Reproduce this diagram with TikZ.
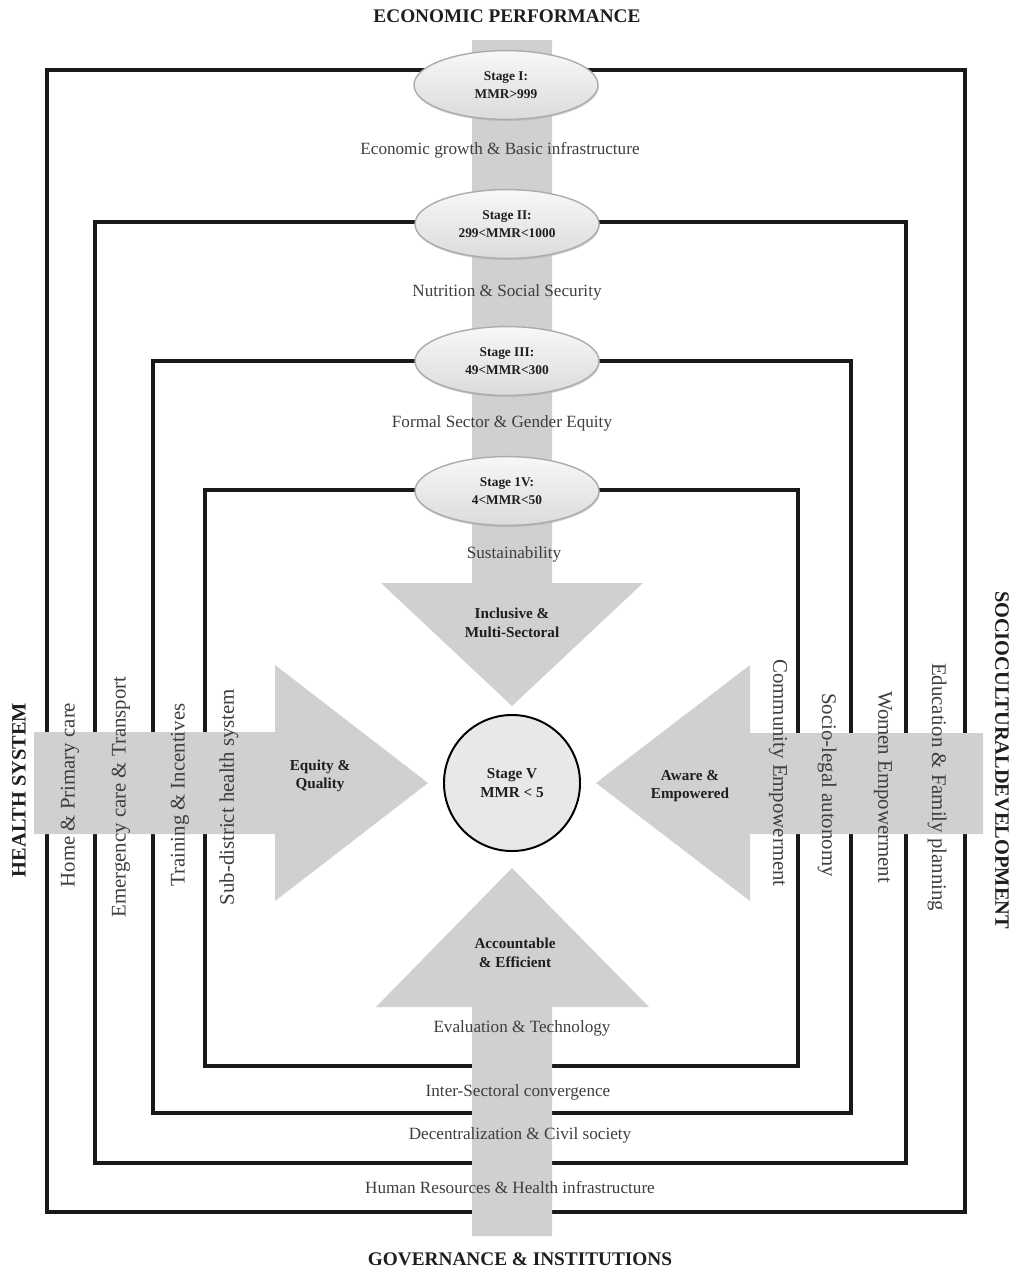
\documentclass[tikz,border=0pt]{standalone}
\usepackage{fontspec}
\setmainfont{Liberation Serif}
\usetikzlibrary{shapes.geometric,shadows}
\definecolor{bandgray}{RGB}{207,208,210}
\definecolor{plaintext}{RGB}{62,62,62}
\definecolor{boldtext}{RGB}{30,30,30}
\tikzset{
  frame/.style={line width=2.4pt, draw=black!90},
  bandshape/.style={fill=bandgray, draw=none},
  stage/.style={ellipse, draw=gray!65, line width=1pt, top color=gray!6, bottom color=gray!28,
    minimum width=4.6cm, minimum height=1.72cm, inner sep=0pt, align=center,
    font=\bfseries\fontsize{9.5}{12.5}\selectfont, text=boldtext,
    drop shadow={shadow xshift=0.4pt, shadow yshift=-1.2pt, fill=gray!60, opacity=0.6}},
  core/.style={circle, draw=black, line width=1.4pt, fill=gray!18, minimum size=3.4cm,
    inner sep=0pt, align=center, font=\bfseries\fontsize{10.8}{13.5}\selectfont, text=boldtext},
  lbl/.style={font=\fontsize{12.2}{14}\selectfont, text=plaintext, inner sep=0pt},
  vlbl/.style={font=\fontsize{14.8}{17}\selectfont, text=plaintext, inner sep=0pt},
  blbl/.style={font=\bfseries\fontsize{10.8}{13.2}\selectfont, align=center, text=boldtext, inner sep=0pt},
  ttl/.style={font=\bfseries\fontsize{13.7}{16}\selectfont, text=boldtext, inner sep=0pt},
  sttl/.style={font=\bfseries\fontsize{14.5}{17}\selectfont, text=boldtext, inner sep=0pt}
}
\begin{document}
\begin{tikzpicture}[x=0.025cm,y=-0.025cm]
\useasboundingbox (0,0) rectangle (1016,1271);
\fill[white] (0,0) rectangle (1016,1271);

% nested frames
\draw[frame] (47,70) rectangle (965,1212);
\draw[frame] (95,222) rectangle (906,1163);
\draw[frame] (153,361) rectangle (851,1113);
\draw[frame] (205,490) rectangle (798,1066);

% gray arrows
\fill[bandshape] (472,40) -- (552,40) -- (552,583) -- (643,583) -- (512,706) -- (381,583) -- (472,583) -- cycle;
\fill[bandshape] (472,1236) -- (552,1236) -- (552,1007) -- (649,1007) -- (512,868) -- (376,1007) -- (472,1007) -- cycle;
\fill[bandshape] (34,732) -- (34,834) -- (275,834) -- (275,901) -- (428,783) -- (275,665) -- (275,732) -- cycle;
\fill[bandshape] (983,733) -- (983,834) -- (750,834) -- (750,901) -- (596,783) -- (750,665) -- (750,733) -- cycle;

% stages
\node[stage] (s1) at (506,85) {Stage I:\\MMR>999};
\node[stage] (s2) at (507,224) {Stage II:\\299<MMR<1000};
\node[stage] (s3) at (507,361) {Stage III:\\49<MMR<300};
\node[stage] (s4) at (507,491) {Stage 1V:\\4<MMR<50};
\node[core] (s5) at (512,783) {Stage V\\MMR < 5};

% titles
\node[ttl] (tTop) at (507,16) {ECONOMIC PERFORMANCE};
\node[ttl] (tBot) at (520,1259) {GOVERNANCE \& INSTITUTIONS};
\node[sttl, rotate=90] (tLeft) at (19,790) {HEALTH SYSTEM};
\node[sttl, rotate=-90] (tRight) at (1002,760) {SOCIOCULTURALDEVELOPMENT};

% horizontal labels
\node[lbl] (l1) at (500,150) {Economic growth \& Basic infrastructure};
\node[lbl] (l2) at (507,292) {Nutrition \& Social Security};
\node[lbl] (l3) at (502,423) {Formal Sector \& Gender Equity};
\node[lbl] (l4) at (514,554) {Sustainability};
\node[lbl] (b1) at (522,1028) {Evaluation \& Technology};
\node[lbl] (b2) at (518,1092) {Inter-Sectoral convergence};
\node[lbl] (b3) at (520,1135) {Decentralization \& Civil society};
\node[lbl] (b4) at (510,1188) {Human Resources \& Health infrastructure};

% vertical labels left
\node[vlbl, rotate=90] (h1) at (70,795) {Home \& Primary care};
\node[vlbl, rotate=90] (h2) at (121,797) {Emergency care \& Transport};
\node[vlbl, rotate=90] (h3) at (180,795) {Training \& Incentives};
\node[vlbl, rotate=90] (h4) at (229,797) {Sub-district health system};

% vertical labels right
\node[vlbl, rotate=-90] (r1) at (778,773) {Community Empowerment};
\node[vlbl, rotate=-90] (r2) at (827,785) {Socio-legal autonomy};
\node[vlbl, rotate=-90] (r3) at (883,787) {Women Empowerment};
\node[vlbl, rotate=-90] (r4) at (937,787) {Education \& Family planning};

% arrow labels
\node[blbl] (aTop) at (512,623) {Inclusive \&\\Multi-Sectoral};
\node[blbl] (aLeft) at (320,776) {Equity \&\\Quality};
\node[blbl] (aRight) at (690,786) {Aware \&\\Empowered};
\node[blbl] (aBot) at (515,953) {Accountable\\\& Efficient};
\end{tikzpicture}
\end{document}
